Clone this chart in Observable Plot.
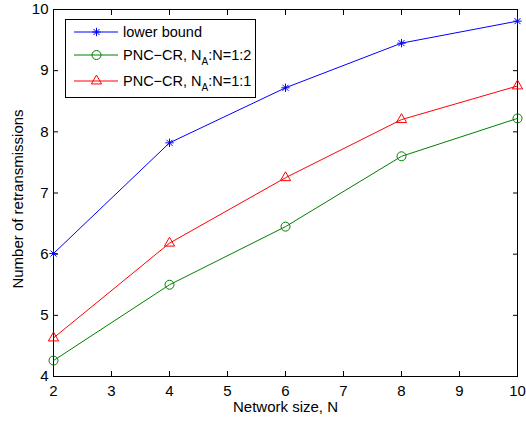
<!DOCTYPE html>
<html>
<head>
<meta charset="utf-8">
<script src="https://cdn.jsdelivr.net/npm/d3@7"></script>
<script src="https://cdn.jsdelivr.net/npm/@observablehq/plot@0.6"></script>
<style>
  html, body { margin: 0; padding: 0; background: #fff; }
  #wrap { position: relative; width: 526px; height: 421px; font-family: "Liberation Sans", Arial, sans-serif; }
  #legend { position: absolute; left: 65px; top: 19px; }
</style>
</head>
<body>
<div id="wrap"></div>
<script>
const networkSize = [2, 4, 6, 8, 10];
const lowerBound = [6.01, 7.82, 8.72, 9.45, 9.81];
const pncCr12 = [4.26, 5.50, 6.45, 7.60, 8.22];
const pncCr11 = [4.63, 6.18, 7.25, 8.20, 8.75];
const xTicks = [2, 3, 4, 5, 6, 7, 8, 9, 10];
const yTicks = [4, 5, 6, 7, 8, 9, 10];
const xTitle = "Network size, N";
const yTitle = "Number of retransmissions";
const seriesNames = ["lower bound", "PNC\u2212CR, N_A:N=1:2", "PNC\u2212CR, N_A:N=1:1"];
const seriesColors = ["#0000ff", "#008000", "#ff0000"];

// MATLAB-style asterisk marker (+ and x combined)
const matlabStar = {
  draw(ctx, size) {
    const r = Math.sqrt(size / Math.PI);
    const d = r * 0.72;
    ctx.moveTo(-r, 0); ctx.lineTo(r, 0);
    ctx.moveTo(0, -r); ctx.lineTo(0, r);
    ctx.moveTo(-d, -d); ctx.lineTo(d, d);
    ctx.moveTo(-d, d); ctx.lineTo(d, -d);
  }
};

const series = [lowerBound, pncCr12, pncCr11].map((vals, i) =>
  networkSize.map((n, j) => ({n, v: vals[j], s: seriesNames[i]})));

const font = "Liberation Sans, Arial, sans-serif";
const fs = 15;

const chart = Plot.plot({
  width: 526,
  height: 421,
  marginLeft: 53,
  marginRight: 9,
  marginTop: 9,
  marginBottom: 45,
  style: {fontFamily: font, fontSize: fs + "px", color: "#000", background: "#fff"},
  x: {domain: [2, 10]},
  y: {domain: [4, 10]},
  marks: [
    Plot.frame({stroke: "#000", strokeWidth: 1}),
    Plot.axisX(xTicks, {anchor: "bottom", tickSize: 0, tickPadding: 9, tickFormat: d3.format("d"), label: null, fontSize: fs}),
    Plot.axisX(xTicks, {anchor: "bottom", tickSize: -5, tickFormat: () => "", label: null}),
    Plot.axisX(xTicks, {anchor: "top", tickSize: -5, tickFormat: () => "", label: null}),
    Plot.axisY(yTicks, {anchor: "left", tickSize: 0, tickPadding: 5, tickFormat: d3.format("d"), label: null, fontSize: fs}),
    Plot.axisY(yTicks, {anchor: "left", tickSize: -5, tickFormat: () => "", label: null}),
    Plot.axisY(yTicks, {anchor: "right", tickSize: -5, tickFormat: () => "", label: null}),
    Plot.text([xTitle], {frameAnchor: "bottom", textAnchor: "middle", lineAnchor: "middle", dy: 31, fontSize: fs, fill: "#000"}),
    Plot.text([yTitle], {frameAnchor: "left", textAnchor: "middle", lineAnchor: "middle", rotate: -90, dx: -35, dy: 6, fontSize: fs, fill: "#000"}),
    Plot.line(series[1], {x: "n", y: "v", stroke: seriesColors[1], strokeWidth: 1}),
    Plot.line(series[2], {x: "n", y: "v", stroke: seriesColors[2], strokeWidth: 1}),
    Plot.line(series[0], {x: "n", y: "v", stroke: seriesColors[0], strokeWidth: 1}),
    Plot.dot(series[1], {x: "n", y: "v", symbol: "circle", r: 4.5, fill: "none", stroke: seriesColors[1], strokeWidth: 1}),
    Plot.dot(series[2], {x: "n", y: "v", symbol: "triangle", r: 3.8, fill: "none", stroke: seriesColors[2], strokeWidth: 1}),
    Plot.dot(series[0], {x: "n", y: "v", symbol: matlabStar, r: 4.2, fill: "none", stroke: seriesColors[0], strokeWidth: 1})
  ]
});

const wrap = document.getElementById("wrap");
wrap.appendChild(chart);

// Legend (SVG overlay)
const ns = "http://www.w3.org/2000/svg";
const lg = document.createElementNS(ns, "svg");
lg.setAttribute("id", "legend");
lg.setAttribute("width", 192);
lg.setAttribute("height", 80);
lg.style.fontFamily = font;
const rect = document.createElementNS(ns, "rect");
rect.setAttribute("x", 0.5); rect.setAttribute("y", 0.5);
rect.setAttribute("width", 190); rect.setAttribute("height", 78);
rect.setAttribute("fill", "#fff"); rect.setAttribute("stroke", "#000");
lg.appendChild(rect);
const rowY = [13, 36, 62];
const symbolPaths = [
  (() => { const p = d3.path(); matlabStar.draw(p, Math.PI * 4.2 * 4.2); return p.toString(); })(),
  d3.symbol(d3.symbolCircle, Math.PI * 4.5 * 4.5)(),
  d3.symbol(d3.symbolTriangle, Math.PI * 3.8 * 3.8)()
];
seriesNames.forEach((name, i) => {
  const y = rowY[i];
  const ln = document.createElementNS(ns, "line");
  ln.setAttribute("x1", 9); ln.setAttribute("x2", 53);
  ln.setAttribute("y1", y); ln.setAttribute("y2", y);
  ln.setAttribute("stroke", seriesColors[i]);
  lg.appendChild(ln);
  const mk = document.createElementNS(ns, "path");
  mk.setAttribute("d", symbolPaths[i]);
  mk.setAttribute("transform", `translate(31.5,${y})`);
  mk.setAttribute("fill", "none");
  mk.setAttribute("stroke", seriesColors[i]);
  lg.appendChild(mk);
  const tx = document.createElementNS(ns, "text");
  tx.setAttribute("x", 58);
  tx.setAttribute("y", y + 5);
  tx.setAttribute("font-size", 14.5);
  const m = name.match(/^(.*)N_A(.*)$/);
  if (m) {
    const t1 = document.createElementNS(ns, "tspan"); t1.textContent = m[1] + "N";
    const t2 = document.createElementNS(ns, "tspan"); t2.textContent = "A";
    t2.setAttribute("font-size", 10); t2.setAttribute("dy", 5);
    const t3 = document.createElementNS(ns, "tspan"); t3.textContent = m[2];
    t3.setAttribute("dy", -5);
    tx.appendChild(t1); tx.appendChild(t2); tx.appendChild(t3);
  } else {
    tx.textContent = name;
  }
  lg.appendChild(tx);
});
wrap.appendChild(lg);
</script>
</body>
</html>
